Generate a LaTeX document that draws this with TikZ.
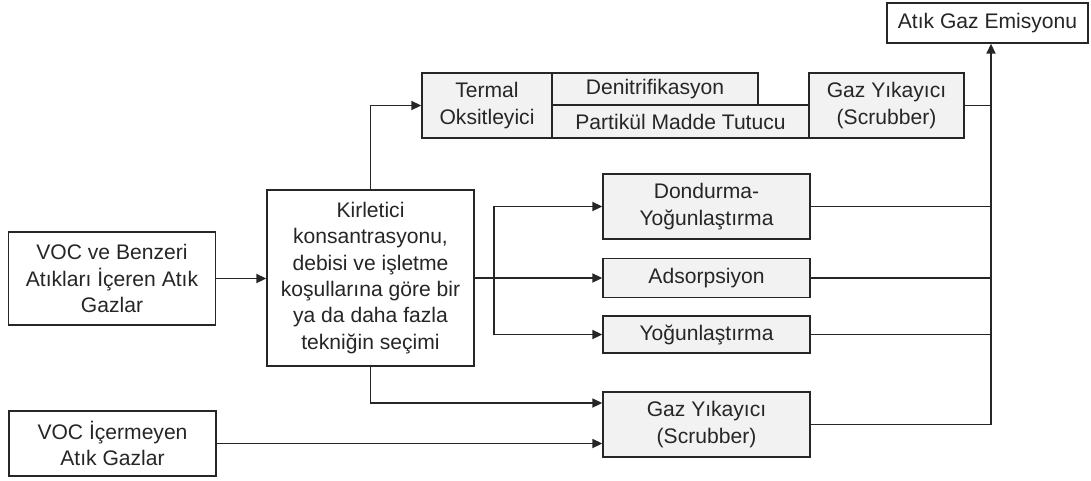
\documentclass[tikz,border=0pt]{standalone}
\usepackage{fontspec}
\setmainfont{Liberation Sans}
\usetikzlibrary{arrows.meta}
\definecolor{boxgray}{HTML}{F2F2F2}
\definecolor{linegray}{HTML}{262626}

\begin{document}
\begin{tikzpicture}
	[x=0.02cm,y=-0.02cm,line width=1pt,draw=linegray,
	every node/.style={draw=linegray,line width=0.8pt,align=center,inner sep=1pt,
		font=\fontsize{12}{15}\selectfont,text=black!85},
	inbox/.style={fill=white},
	techbox/.style={fill=boxgray},
	arr/.style={-{Triangle[length=0.2cm,width=0.18cm]}}]
	\useasboundingbox (0,0) rectangle (1091,480);
	% inputs and selection
	\node[inbox,minimum width=4.14cm,minimum height=1.86cm] (voc) at (112,278.5)
		{VOC ve Benzeri\\Atıkları İçeren Atık\\Gazlar};
	\node[inbox,minimum width=4.14cm,minimum height=1.3cm] (nonvoc) at (112.5,443.5)
		{VOC İçermeyen\\Atık Gazlar};
	\node[inbox,minimum width=4.14cm,minimum height=3.52cm] (sec) at (370.5,278)
		{Kirletici\\konsantrasyonu,\\debisi ve işletme\\koşullarına göre bir\\ya da daha fazla\\tekniğin seçimi};
	% upper chain
	\node[techbox,minimum width=2.6cm,minimum height=1.3cm] (termal) at (487,105.5)
		{Termal\\Oksitleyici};
	\node[techbox,minimum width=4.12cm,minimum height=0.64cm] (denit) at (655,89)
		{Denitrifikasyon};
	\node[techbox,minimum width=5.14cm,minimum height=0.66cm] (partikul) at (680.5,121.5)
		{Partikül Madde Tutucu};
	\node[techbox,minimum width=3.1cm,minimum height=1.3cm] (scrubA) at (886.5,105.5)
		{Gaz Yıkayıcı\\(Scrubber)};
	% parallel techniques
	\node[techbox,minimum width=4.14cm,minimum height=1.3cm] (dond) at (706.5,206.5)
		{Dondurma-\\Yoğunlaştırma};
	\node[techbox,minimum width=4.14cm,minimum height=0.78cm] (ads) at (706.5,278)
		{Adsorpsiyon};
	\node[techbox,minimum width=4.14cm,minimum height=0.74cm] (yog) at (706.5,334.5)
		{Yoğunlaştırma};
	\node[techbox,minimum width=4.14cm,minimum height=1.3cm] (scrubB) at (706.5,424.5)
		{Gaz Yıkayıcı\\(Scrubber)};
	% output
	\node[inbox,minimum width=4.02cm,minimum height=0.8cm] (emis) at (987.5,23)
		{Atık Gaz Emisyonu};
	
	\coordinate (br) at (494,278);
	\coordinate (col) at ([xshift=0.07cm]emis.south);
	
	\draw[arr] (voc.east) -- (sec.west |- voc.east);
	\draw[arr] (sec.north) |- (termal.west);
	\draw[arr] (sec.east) -- (sec.east -| ads.west);
	\draw[arr] (br) |- (dond.west);
	\draw[arr] (br) |- (yog.west);
	\draw[arr] (sec.south) |- ([yshift=0.43cm]scrubB.west);
	\draw[arr] (nonvoc.east) -- (nonvoc.east -| scrubB.west);
	\draw[arr] (scrubB.east) -| (col);
	\foreach \n in {scrubA,dond,ads,yog}
	{
		\draw (\n.east) -- (\n.east -| col);
	}
\end{tikzpicture}
\end{document}
